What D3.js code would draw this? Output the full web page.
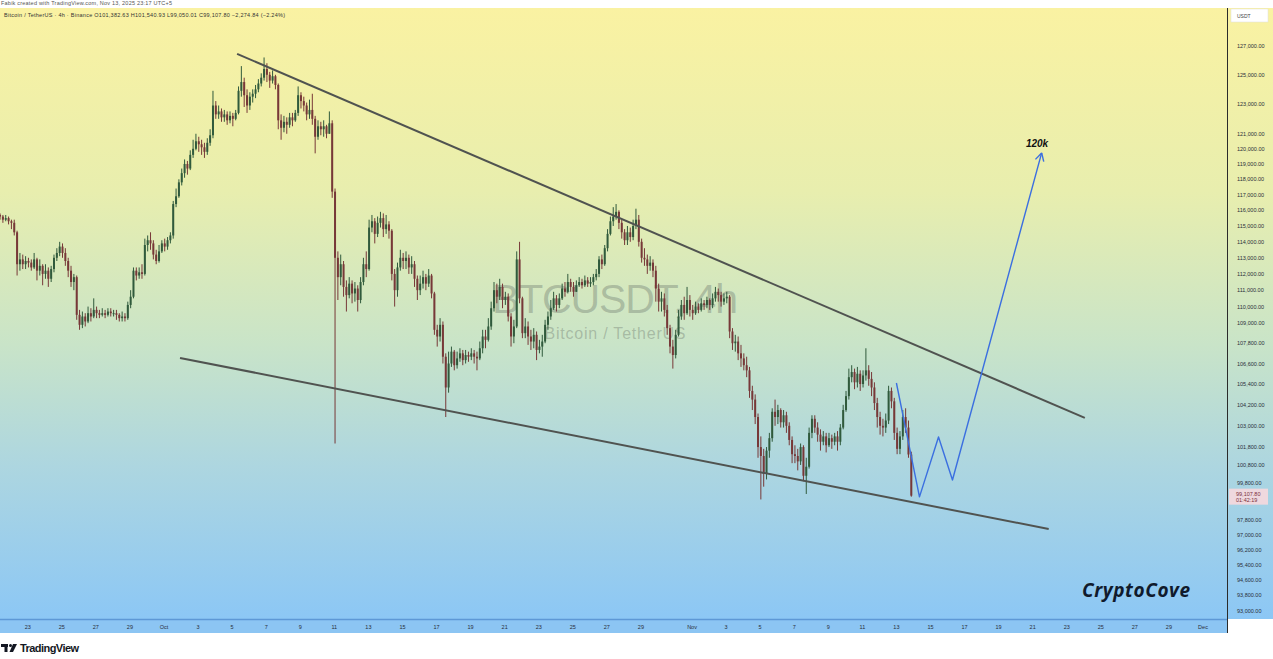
<!DOCTYPE html>
<html>
<head>
<meta charset="utf-8">
<script src="https://cdn.jsdelivr.net/npm/d3@7"></script>
<style>
  body { margin: 0; background: #fff; }
  svg { display: block; font-family: "Liberation Sans", Arial, sans-serif; }
</style>
</head>
<body>
<div id="chart"></div>
<script>
// BTCUSDT 4h candles, prices in thousands of USDT (one row per UTC day)
const firstCandleUtc = "2025-09-21T04:00:00Z";
const firstOpen = 115.7;

const closes = [
  115.6, 115.4, 115.5, 115.3, 115.2,
  114.6, 112.6, 112.9, 112.6, 112.8, 112.7,
  112.4, 112.9, 112.2, 112.5, 112.0, 112.2,
  111.7, 112.3, 113.0, 113.3, 113.7, 113.3,
  112.8, 112.2, 111.5, 111.8, 109.5, 108.9,
  109.4, 109.1, 109.6, 109.4, 109.8, 109.6,
  109.5, 109.6, 109.5, 109.7, 109.6, 109.6,
  109.5, 109.3, 109.4, 109.3, 110.1, 110.6,
  112.2, 111.9, 112.1, 112.0, 113.8, 114.1,
  113.9, 113.2, 112.8, 113.4, 113.9, 113.7,
  114.1, 114.4, 116.4, 116.9, 117.8, 118.4,
  119.0, 118.7, 119.6, 120.0, 120.5, 120.3,
  120.1, 119.8, 120.4, 120.9, 122.9, 122.3,
  122.5, 122.1, 122.3, 121.9, 122.2, 122.0,
  122.4, 123.9, 124.5, 123.6, 122.9, 123.5,
  123.7, 124.0, 124.4, 124.8, 125.4, 125.0,
  124.6, 124.9, 124.3, 121.9, 121.4, 121.8,
  121.6, 122.1, 121.9, 122.4, 123.6, 123.2,
  122.9, 122.3, 122.6, 122.0, 120.8, 121.5,
  121.3, 121.5, 121.0, 121.7, 117.2, 113.0,
  111.8, 112.6, 111.2, 110.7, 111.4, 110.8,
  111.1, 110.4, 111.5, 112.6, 112.3, 114.9,
  115.3, 114.5, 115.2, 115.5, 114.8, 115.1,
  114.7, 112.0, 111.0, 112.4, 113.0, 112.8,
  113.0, 112.4, 112.6, 111.7, 111.0, 111.4,
  111.8, 111.4, 111.9, 110.8, 108.6, 108.2,
  108.9, 107.0, 105.2, 106.6, 107.3, 106.5,
  106.9, 107.2, 106.8, 107.1, 107.0, 107.2,
  107.0, 106.9, 107.5, 108.2, 108.0, 108.8,
  109.9, 111.0, 110.6, 111.2, 110.4, 110.6,
  109.4, 108.2, 108.8, 112.9, 110.5, 108.4,
  108.8, 108.2, 107.9, 108.3, 107.4, 107.6,
  107.9, 108.9, 109.4, 109.9, 110.5, 110.1,
  110.5, 111.1, 110.9, 111.5, 111.2, 110.9,
  111.3, 111.5, 111.3, 111.6, 111.4, 111.5,
  111.8, 112.0, 112.9, 112.6, 113.6, 114.5,
  115.3, 115.6, 115.9, 115.2, 114.6, 114.1,
  114.6, 114.3, 115.0, 115.4, 114.0, 113.0,
  112.9, 112.5, 112.7, 112.2, 111.1, 110.3,
  110.5, 109.8, 108.7, 107.6, 107.1, 108.3,
  109.4, 110.1, 109.6, 110.4, 109.8, 109.6,
  110.0, 109.8, 110.2, 110.1, 110.4, 110.1,
  110.5, 110.9, 110.7, 110.3, 110.5, 110.6,
  108.5, 107.8, 107.9, 107.2, 106.9, 106.5,
  106.2, 105.0, 104.5, 103.5, 101.8, 101.3,
  100.3, 101.6, 102.3, 103.8, 103.5, 103.9,
  103.2, 103.6, 103.0, 102.2, 101.4, 101.3,
  101.0, 101.8, 100.2, 100.7, 102.6, 103.4,
  102.9, 102.5, 102.1, 102.4, 101.9, 102.3,
  102.1, 102.4, 102.1, 102.9, 103.9, 104.7,
  105.8, 106.1, 105.5, 106.0, 105.4, 105.9,
  106.2, 105.7, 105.2, 104.3, 103.5, 103.0,
  102.9, 103.3, 105.0, 104.4, 102.6, 101.7,
  102.4, 103.5, 102.9, 101.38263, 99.1078
];

const highs = [
  115.8, 115.7, 115.7, 115.6, 115.4,
  115.4, 114.7, 113.3, 113.2, 113.1, 113.0,
  112.9, 113.3, 113.0, 112.9, 112.6, 112.6,
  112.4, 112.5, 113.2, 113.6, 114.0, 113.9,
  113.6, 113.0, 112.5, 112.0, 111.9, 109.8,
  109.7, 109.6, 110.0, 109.9, 110.5, 110.0,
  109.8, 109.9, 109.8, 109.9, 109.9, 109.8,
  109.8, 109.6, 109.7, 109.6, 110.3, 111.0,
  112.4, 112.4, 112.4, 112.6, 114.2, 114.4,
  114.6, 114.1, 113.5, 113.8, 114.1, 114.2,
  114.3, 114.6, 116.6, 117.4, 118.0, 118.7,
  119.3, 119.2, 119.9, 120.6, 121.0, 120.8,
  120.6, 120.4, 120.7, 121.3, 123.9, 123.2,
  122.9, 122.7, 122.6, 122.5, 122.5, 122.4,
  122.6, 124.2, 125.6, 124.8, 124.0, 123.8,
  124.0, 124.3, 124.7, 125.1, 126.2, 125.8,
  125.2, 125.3, 125.0, 124.4, 122.3, 122.2,
  122.1, 122.4, 122.4, 122.6, 124.2, 123.8,
  123.5, 123.1, 123.3, 123.7, 122.2, 121.9,
  121.8, 121.9, 121.6, 122.5, 121.9, 117.4,
  113.4, 113.2, 112.8, 111.6, 111.8, 111.6,
  111.5, 111.3, 111.8, 113.0, 113.4, 115.4,
  115.7, 115.5, 115.6, 115.9, 115.8, 115.7,
  115.3, 114.8, 112.3, 112.7, 113.5, 113.3,
  113.4, 113.2, 113.1, 112.8, 111.9, 111.9,
  112.2, 112.0, 112.3, 112.0, 110.9, 108.9,
  109.3, 109.1, 107.2, 107.3, 107.6, 107.4,
  107.3, 107.5, 107.4, 107.4, 107.3, 107.5,
  107.4, 107.3, 107.9, 108.6, 108.6, 109.3,
  110.3, 111.5, 111.4, 111.7, 111.4, 110.9,
  110.8, 109.6, 109.2, 113.4, 114.0, 110.6,
  109.3, 109.1, 108.6, 108.7, 108.5, 108.0,
  108.3, 109.2, 109.7, 110.4, 110.9, 110.7,
  110.8, 111.4, 111.5, 112.0, 111.7, 111.5,
  111.6, 111.8, 111.7, 111.9, 111.8, 111.8,
  112.0, 112.3, 113.1, 113.2, 113.8, 114.8,
  115.6, 116.2, 116.4, 116.0, 115.4, 114.8,
  115.0, 114.9, 115.4, 116.1, 115.7, 114.2,
  113.6, 113.2, 113.1, 112.9, 112.5, 111.4,
  110.9, 110.8, 110.1, 108.9, 108.0, 108.6,
  109.8, 110.4, 110.6, 111.2, 110.7, 110.1,
  110.3, 110.2, 110.5, 110.4, 110.6, 110.5,
  110.8, 111.2, 111.1, 110.9, 110.8, 110.9,
  110.7, 108.7, 108.3, 108.2, 107.7, 107.2,
  107.0, 106.4, 105.3, 104.8, 103.7, 102.4,
  101.7, 101.8, 102.6, 104.0, 104.5, 104.2,
  104.0, 103.9, 103.8, 103.2, 102.4, 101.9,
  101.7, 102.0, 101.9, 101.2, 102.9, 103.6,
  103.6, 103.2, 102.8, 102.7, 102.6, 102.6,
  102.5, 102.6, 102.7, 103.1, 104.2, 105.0,
  106.3, 106.5, 106.3, 106.4, 106.2, 106.2,
  107.5, 106.5, 106.1, 105.5, 104.6, 103.8,
  103.4, 103.7, 105.3, 105.2, 104.6, 102.9,
  102.7, 103.9, 104.0, 103.3, 101.54093
];

const lows = [
  115.4, 115.2, 115.3, 115.1, 114.8,
  114.4, 111.9, 112.2, 112.3, 112.3, 112.4,
  112.2, 112.3, 111.6, 111.9, 111.3, 111.7,
  111.2, 111.5, 112.1, 112.8, 113.1, 113.0,
  112.5, 111.8, 111.2, 111.0, 109.2, 108.6,
  108.7, 108.8, 109.0, 109.1, 109.3, 109.3,
  109.3, 109.4, 109.3, 109.4, 109.4, 109.4,
  109.2, 109.1, 109.1, 109.1, 109.2, 109.9,
  110.5, 111.6, 111.7, 111.7, 111.9, 113.4,
  113.5, 112.9, 112.6, 112.7, 113.3, 113.4,
  113.5, 113.9, 114.2, 116.2, 116.8, 117.6,
  118.1, 118.3, 118.6, 119.4, 119.9, 119.8,
  119.6, 119.4, 119.6, 120.2, 120.7, 122.0,
  122.0, 121.8, 121.8, 121.6, 121.7, 121.5,
  121.9, 122.3, 123.5, 122.8, 122.4, 122.6,
  123.1, 123.4, 123.8, 124.2, 124.6, 124.5,
  124.1, 124.4, 124.0, 121.3, 120.6, 121.1,
  121.0, 121.4, 121.5, 121.8, 122.2, 122.7,
  122.5, 121.9, 122.0, 121.6, 119.7, 120.6,
  120.9, 120.8, 120.7, 121.0, 116.8, 102.0,
  110.4, 111.3, 110.6, 109.7, 110.5, 110.2,
  110.3, 109.7, 110.2, 111.3, 111.8, 112.2,
  114.6, 113.9, 114.3, 114.9, 114.3, 114.5,
  114.2, 111.6, 110.0, 110.6, 112.2, 112.3,
  112.3, 112.0, 112.0, 111.2, 110.4, 110.7,
  111.1, 111.0, 111.2, 110.5, 108.3, 107.6,
  107.9, 106.6, 103.5, 104.9, 106.4, 106.2,
  106.3, 106.7, 106.5, 106.6, 106.7, 106.8,
  106.6, 106.2, 106.8, 107.2, 107.5, 107.9,
  108.6, 109.7, 110.2, 110.4, 109.9, 110.1,
  109.1, 107.6, 107.8, 108.7, 110.2, 108.1,
  108.1, 107.7, 107.4, 107.5, 106.8, 107.2,
  107.0, 107.8, 108.6, 109.2, 109.8, 109.7,
  109.9, 110.4, 110.6, 110.8, 110.9, 110.6,
  110.9, 111.2, 111.1, 111.2, 111.2, 111.2,
  111.3, 111.6, 111.8, 112.3, 112.5, 113.4,
  114.4, 115.0, 115.4, 114.8, 114.2, 113.8,
  113.8, 114.0, 114.1, 114.8, 113.7, 112.7,
  112.5, 112.0, 112.2, 111.8, 110.3, 109.7,
  109.7, 109.4, 108.3, 107.2, 106.3, 106.9,
  108.2, 109.2, 109.2, 109.5, 109.4, 109.2,
  109.5, 109.6, 109.7, 109.8, 109.9, 109.8,
  109.9, 110.3, 110.3, 110.0, 110.1, 110.2,
  108.1, 107.4, 107.3, 106.8, 106.4, 106.2,
  105.8, 104.6, 103.9, 103.1, 101.2, 98.9,
  99.6, 100.0, 101.2, 102.1, 103.0, 103.1,
  102.9, 102.9, 102.6, 101.9, 100.9, 100.9,
  100.5, 100.8, 99.9, 99.2, 100.6, 102.3,
  102.6, 102.1, 101.6, 101.9, 101.5, 101.8,
  101.7, 101.9, 101.6, 101.9, 102.8, 103.8,
  104.5, 105.5, 105.1, 105.2, 105.0, 105.2,
  105.6, 105.3, 104.7, 103.9, 102.9, 102.5,
  102.4, 102.6, 103.1, 104.0, 102.2, 101.4,
  101.4, 102.2, 102.6, 101.2, 99.05001
];

// price scale labels (USDT) and date labels (chart time, UTC+5)
const priceTicks = [127000, 125000, 123000, 121000, 120000, 119000, 118000, 117000,
  116000, 115000, 114000, 113000, 112000, 111000, 110000, 109000, 107800, 106600,
  105400, 104200, 103000, 101800, 100800, 99800, 97800, 97000, 96200, 95400, 94600,
  93800, 93000];
const dateTicks = ["2025-09-23", "2025-09-25", "2025-09-27", "2025-09-29", "2025-10-01",
  "2025-10-03", "2025-10-05", "2025-10-07", "2025-10-09", "2025-10-11", "2025-10-13",
  "2025-10-15", "2025-10-17", "2025-10-19", "2025-10-21", "2025-10-23", "2025-10-25",
  "2025-10-27", "2025-10-29", "2025-11-01", "2025-11-03", "2025-11-05", "2025-11-07",
  "2025-11-09", "2025-11-11", "2025-11-13", "2025-11-15", "2025-11-17", "2025-11-19",
  "2025-11-21", "2025-11-23", "2025-11-25", "2025-11-27", "2025-11-29", "2025-12-01"];

// drawings: [chart time, price in thousands]
const upperTrend = [["2025-10-05T07:00", 126.45], ["2025-11-24T01:30", 103.45]];
const lowerTrend = [["2025-10-01T22:35", 106.93], ["2025-11-21T22:35", 97.30]];
const projection = [["2025-11-13T00:00", 105.46], ["2025-11-14T08:30", 99.04],
  ["2025-11-15T11:20", 102.37], ["2025-11-16T07:00", 99.97], ["2025-11-21T12:40", 119.73]];

const lastPrice = 99107.80;
const monthNames = ["Jan", "Feb", "Mar", "Apr", "May", "Jun", "Jul", "Aug", "Sep", "Oct", "Nov", "Dec"];

const width = 1273, height = 659;
const plotRight = 1227, plotTop = 8, plotBottom = 619;
const tz = 5 * 3600 * 1000;
const step = 4 * 3600 * 1000;

const svg = d3.select("#chart").append("svg")
  .attr("width", width)
  .attr("height", height);

const defs = svg.append("defs");
const grad = defs.append("linearGradient")
  .attr("id", "bg").attr("x1", 0).attr("y1", 0).attr("x2", 0).attr("y2", 1);
[["0%", "#faf2a2"], ["30%", "#e8eeae"], ["55%", "#c9e4c8"], ["75%", "#add6e0"], ["100%", "#8cc7f5"]]
  .forEach(s => grad.append("stop").attr("offset", s[0]).attr("stop-color", s[1]));
defs.append("clipPath").attr("id", "plot")
  .append("rect").attr("x", 0).attr("y", plotTop).attr("width", plotRight).attr("height", plotBottom - plotTop);

svg.append("rect").attr("x", 0).attr("y", plotTop).attr("width", width).attr("height", plotBottom - plotTop)
  .attr("fill", "url(#bg)");

const parseLocal = s => new Date(s + (s.length > 10 ? ":00Z" : "T00:00:00Z"));

const x = d3.scaleUtc()
  .domain([parseLocal("2025-10-01"), parseLocal("2025-12-01")])
  .range([164, 1203]);

const y = d3.scaleLog()
  .domain([93000, 127000])
  .range([611, 46]);

// build candles
const t0 = new Date(firstCandleUtc).getTime();
const candles = closes.map((c, i) => {
  const o = i === 0 ? firstOpen : closes[i - 1];
  return {
    date: new Date(t0 + i * step + tz),
    open: o * 1000,
    close: c * 1000,
    high: Math.max(highs[i], o, c) * 1000,
    low: Math.min(lows[i], o, c) * 1000
  };
});

const plot = svg.append("g").attr("clip-path", "url(#plot)");

// watermark
plot.append("text")
  .attr("x", 615).attr("y", 313)
  .attr("text-anchor", "middle")
  .attr("textLength", 246)
  .style("font-size", "41px")
  .attr("fill", "#7a8779").attr("fill-opacity", 0.45)
  .text("BTCUSDT, 4h");
plot.append("text")
  .attr("x", 615).attr("y", 339)
  .attr("text-anchor", "middle")
  .attr("textLength", 141)
  .style("font-size", "16px")
  .attr("fill", "#7a8779").attr("fill-opacity", 0.45)
  .text("Bitcoin / TetherUS");

const upColor = "#305a3c", downColor = "#773838";

const cg = plot.append("g").selectAll("g")
  .data(candles)
  .enter().append("g");

cg.append("line")
  .attr("x1", d => x(d.date)).attr("x2", d => x(d.date))
  .attr("y1", d => y(d.high)).attr("y2", d => y(d.low))
  .attr("stroke", d => d.close >= d.open ? upColor : downColor)
  .attr("stroke-width", 1);

cg.append("rect")
  .attr("x", d => x(d.date) - 1)
  .attr("width", 2)
  .attr("y", d => y(Math.max(d.open, d.close)))
  .attr("height", d => Math.max(1, Math.abs(y(d.open) - y(d.close))))
  .attr("fill", d => d.close >= d.open ? upColor : downColor);

// trend lines
const line = d3.line()
  .x(d => x(parseLocal(d[0])))
  .y(d => y(d[1] * 1000));

[upperTrend, lowerTrend].forEach(pts => {
  plot.append("path")
    .attr("d", line(pts))
    .attr("fill", "none")
    .attr("stroke", "#505350")
    .attr("stroke-width", 2);
});

// projected path with arrow
plot.append("path")
  .attr("d", line(projection))
  .attr("fill", "none")
  .attr("stroke", "#3b6fe0")
  .attr("stroke-width", 1.4)
  .attr("stroke-linejoin", "round");

const tip = projection[projection.length - 1];
const prev = projection[projection.length - 2];
const tx = x(parseLocal(tip[0])), ty = y(tip[1] * 1000);
const ang = Math.atan2(ty - y(prev[1] * 1000), tx - x(parseLocal(prev[0])));
[-0.5, 0.5].forEach(a => {
  plot.append("line")
    .attr("x1", tx).attr("y1", ty)
    .attr("x2", tx - 9 * Math.cos(ang + a)).attr("y2", ty - 9 * Math.sin(ang + a))
    .attr("stroke", "#3b6fe0").attr("stroke-width", 1.4);
});

plot.append("text")
  .attr("x", 1037).attr("y", 147)
  .attr("text-anchor", "middle")
  .style("font-size", "10px").style("font-weight", "bold").style("font-style", "italic")
  .attr("fill", "#111")
  .text("120k");

plot.append("text")
  .attr("x", 1082).attr("y", 597)
  .attr("textLength", 108)
  .style("font-family", "'Open Sans', sans-serif")
  .style("font-size", "19px").style("font-weight", "bold").style("font-style", "italic")
  .attr("fill", "#101a2c")
  .text("CryptoCove");

// time axis band
svg.append("rect").attr("x", 0).attr("y", plotBottom).attr("width", plotRight).attr("height", 14)
  .attr("fill", "#8cc5f3");
svg.append("line").attr("x1", 0).attr("x2", plotRight).attr("y1", plotBottom + 0.5).attr("y2", plotBottom + 0.5)
  .attr("stroke", "#5d98d6").attr("stroke-width", 1.5);

svg.append("g").selectAll("text")
  .data(dateTicks)
  .enter().append("text")
  .attr("x", d => x(parseLocal(d)))
  .attr("y", 629)
  .attr("text-anchor", "middle")
  .style("font-size", "5.5px")
  .attr("fill", "#2a2e39")
  .text(d => {
    const dt = parseLocal(d);
    return dt.getUTCDate() === 1 ? monthNames[dt.getUTCMonth()] : dt.getUTCDate();
  });

// price axis
const fmt = d3.format(",.2f");
svg.append("line").attr("x1", plotRight + 0.5).attr("x2", plotRight + 0.5).attr("y1", plotTop).attr("y2", 633)
  .attr("stroke", "#2b2b2b").attr("stroke-width", 1);

svg.append("g").selectAll("text")
  .data(priceTicks)
  .enter().append("text")
  .attr("x", 1237)
  .attr("y", d => y(d) + 2)
  .style("font-size", "5.5px")
  .attr("fill", "#2a2e39")
  .text(d => fmt(d));

svg.append("rect").attr("x", 1231).attr("y", 9).attr("width", 37).attr("height", 13)
  .attr("fill", "#fff").attr("stroke", "#ddd").attr("stroke-width", 0.5);
svg.append("text").attr("x", 1237).attr("y", 17.5)
  .style("font-size", "5px").attr("fill", "#444").text("USDT");

const py = y(lastPrice);
svg.append("rect").attr("x", 1229).attr("y", py - 7).attr("width", 39).attr("height", 16)
  .attr("fill", "#efd8de");
svg.append("text").attr("x", 1236).attr("y", py)
  .style("font-size", "5.5px").attr("fill", "#7b2f3b").text(fmt(lastPrice));
svg.append("text").attr("x", 1236).attr("y", py + 6.5)
  .style("font-size", "5.5px").attr("fill", "#7b2f3b").text("01:42:19");

// header and legend
svg.append("text").attr("x", 1).attr("y", 5)
  .attr("textLength", 171)
  .style("font-size", "5.5px").attr("fill", "#555")
  .text("Fabik created with TradingView.com, Nov 13, 2025 23:17 UTC+5");

svg.append("text").attr("x", 4).attr("y", 17)
  .attr("textLength", 281)
  .style("font-size", "5.5px").attr("fill", "#333")
  .text("Bitcoin / TetherUS · 4h · Binance   O101,382.63  H101,540.93  L99,050.01  C99,107.80  \u22122,274.84 (\u22122.24%)");

// TradingView mark
const logo = svg.append("g").attr("fill", "#131722");
logo.append("rect").attr("x", 1).attr("y", 644).attr("width", 7).attr("height", 3);
logo.append("rect").attr("x", 4.5).attr("y", 644).attr("width", 3).attr("height", 8);
logo.append("circle").attr("cx", 10.5).attr("cy", 645.5).attr("r", 1.5);
logo.append("polygon").attr("points", "13,644 17,644 13,652 9.5,652");
svg.append("text").attr("x", 20).attr("y", 652)
  .attr("textLength", 59)
  .style("font-size", "11px").style("font-weight", "bold")
  .attr("fill", "#131722")
  .text("TradingView");
</script>
</body>
</html>
